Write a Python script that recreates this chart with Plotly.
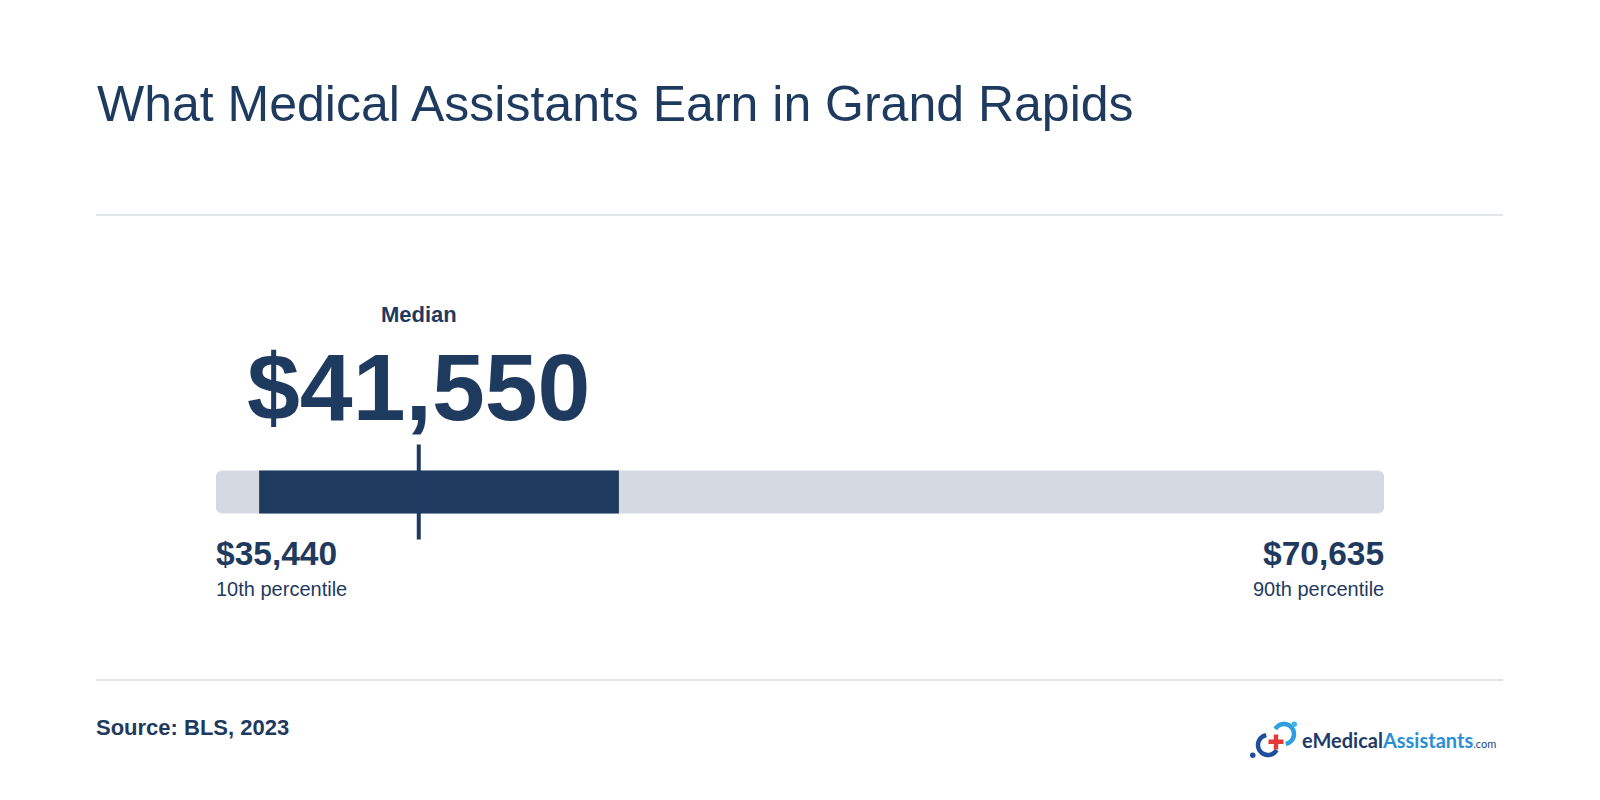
import plotly.graph_objects as go
import math

# ---- data ----
title_text = "What Medical Assistants Earn in Grand Rapids"
p10 = 35440
p25 = 36740
median = 41550
p75 = 47580
p90 = 70635
labels = ["10th percentile", "90th percentile"]
source_text = "Source: BLS, 2023"

NAVY = "#1f3a5f"
TRACK = "#d5dae2"
RULE = "#d9dce1"
FONT = "Liberation Sans, Arial, Helvetica, sans-serif"

W, H = 1600, 800
OFF = 8  # page body margin compensation

def px(x):
    return (x - OFF) / W

def py(y):
    return 1 - (y - OFF) / H

fig = go.Figure()

# full range track (10th to 90th percentile)
fig.add_trace(go.Bar(
    y=[0], x=[p90 - p10], base=[p10], orientation="h", width=0.82,
    marker=dict(color=TRACK, line=dict(width=0), cornerradius=6),
    hoverinfo="skip", showlegend=False,
))
# interquartile range
fig.add_trace(go.Bar(
    y=[0], x=[p75 - p25], base=[p25], orientation="h", width=0.82,
    marker=dict(color=NAVY, line=dict(width=0)),
    hoverinfo="skip", showlegend=False,
))
# median marker
fig.add_trace(go.Scatter(
    x=[median, median], y=[-0.905, 0.905], mode="lines",
    line=dict(color=NAVY, width=4), hoverinfo="skip", showlegend=False,
    cliponaxis=False,
))

fig.update_layout(
    width=W, height=H, margin=dict(l=0, r=0, t=0, b=0),
    paper_bgcolor="white", plot_bgcolor="rgba(0,0,0,0)",
    barmode="overlay",
    xaxis=dict(domain=[px(216), px(1384)], range=[p10, p90], visible=False, fixedrange=True),
    yaxis=dict(domain=[py(544.5), py(439.5)], range=[-1, 1], visible=False, fixedrange=True),
    font=dict(family=FONT, color=NAVY),
)

# horizontal rules
for yy in (215, 680):
    fig.add_shape(type="line", xref="paper", yref="paper",
                  x0=px(96), x1=px(1503), y0=py(yy), y1=py(yy),
                  line=dict(color=RULE, width=1.6))

ann = []
ann.append(dict(text=title_text, xref="paper", yref="paper", x=px(95), y=py(103.5),
                xanchor="left", yanchor="middle", showarrow=False,
                font=dict(size=50, family=FONT, color=NAVY)))
ann.append(dict(text="<b>Median</b>", xref="x", yref="paper", x=median, y=py(314.5),
                xanchor="center", yanchor="middle", showarrow=False,
                font=dict(size=22, family=FONT, color=NAVY)))
ann.append(dict(text="<b>${:,}</b>".format(median), xref="x", yref="paper", x=median, y=py(387),
                xanchor="center", yanchor="middle", showarrow=False,
                font=dict(size=95, family=FONT, color=NAVY)))
ann.append(dict(text="<b>${:,}</b>".format(p10), xref="x", yref="paper", x=p10, y=py(553.5),
                xanchor="left", yanchor="middle", showarrow=False, xshift=-2,
                font=dict(size=33.5, family=FONT, color=NAVY)))
ann.append(dict(text=labels[0], xref="x", yref="paper", x=p10, y=py(589),
                xanchor="left", yanchor="middle", showarrow=False, xshift=-2,
                font=dict(size=20, family=FONT, color=NAVY)))
ann.append(dict(text="<b>${:,}</b>".format(p90), xref="x", yref="paper", x=p90, y=py(553.5),
                xanchor="right", yanchor="middle", showarrow=False, xshift=2,
                font=dict(size=33.5, family=FONT, color=NAVY)))
ann.append(dict(text=labels[1], xref="x", yref="paper", x=p90, y=py(589),
                xanchor="right", yanchor="middle", showarrow=False, xshift=2,
                font=dict(size=20, family=FONT, color=NAVY)))
ann.append(dict(text="<b>" + source_text + "</b>", xref="paper", yref="paper", x=px(94), y=py(727),
                xanchor="left", yanchor="middle", showarrow=False,
                font=dict(size=22, family=FONT, color=NAVY)))
# logo wordmark
ann.append(dict(text="<b><span style='color:#1e3a66'>eMedical</span><span style='color:#2b8fd6'>Assistants</span></b><span style='color:#1e4a8a;font-size:11px'>.com</span>",
                xref="paper", yref="paper", x=px(1300), y=py(740),
                xanchor="left", yanchor="middle", showarrow=False,
                font=dict(size=20, family="Lato, Open Sans, sans-serif")))
fig.update_layout(annotations=ann)

# logo icon (decorative)
def arc_path(cx, cy, r, a0, a1, n=24):
    pts = []
    for i in range(n + 1):
        a = math.radians(a0 + (a1 - a0) * i / n)
        pts.append((px(cx + r * math.cos(a)), py(cy - r * math.sin(a))))
    return "M " + " L ".join("{:.5f},{:.5f}".format(x, y) for x, y in pts)

fig.add_shape(type="path", xref="paper", yref="paper",
              path=arc_path(1268, 745, 10, 100, 330), line=dict(color="#1d4f9c", width=4.5))
fig.add_shape(type="path", xref="paper", yref="paper",
              path=arc_path(1284, 734, 10, -80, 150), line=dict(color="#2d9ee0", width=4.5))
fig.add_shape(type="circle", xref="paper", yref="paper",
              x0=px(1250), x1=px(1255.5), y0=py(758), y1=py(752.5),
              fillcolor="#1d4f9c", line=dict(width=0))
fig.add_shape(type="circle", xref="paper", yref="paper",
              x0=px(1291.5), x1=px(1297), y0=py(727), y1=py(721.5),
              fillcolor="#3fb3ea", line=dict(width=0))
fig.add_shape(type="rect", xref="paper", yref="paper",
              x0=px(1268.5), x1=px(1283.5), y0=py(744), y1=py(739.5),
              fillcolor="#e53935", line=dict(width=0))
fig.add_shape(type="rect", xref="paper", yref="paper",
              x0=px(1273.8), x1=px(1278.2), y0=py(749.5), y1=py(734.5),
              fillcolor="#e53935", line=dict(width=0))

fig.write_html("out.html", config={"displayModeBar": False})
